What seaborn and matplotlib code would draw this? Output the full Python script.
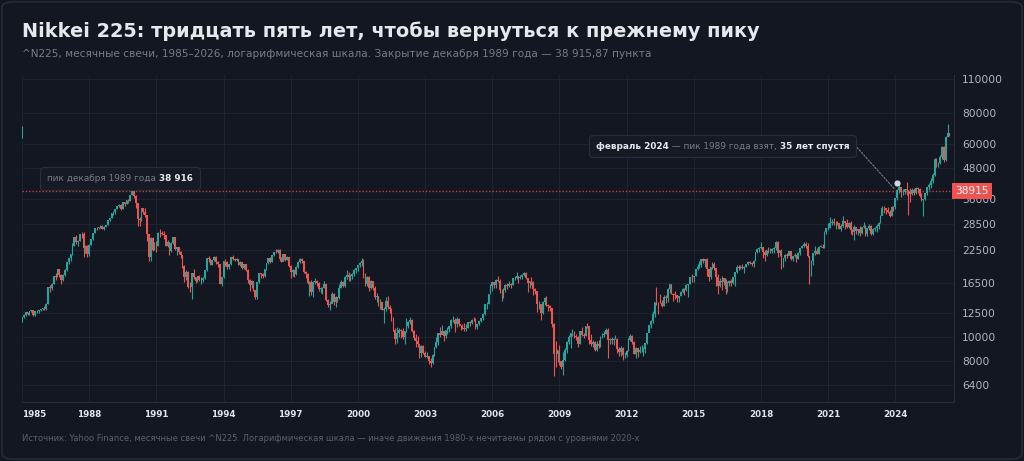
import matplotlib
matplotlib.use('Agg')
import numpy as np
import pandas as pd
import matplotlib.pyplot as plt
import seaborn as sns
from matplotlib.offsetbox import TextArea, HPacker, AnnotationBbox
from matplotlib.patches import FancyBboxPatch
from matplotlib.transforms import blended_transform_factory

# ---- data: ^N225 monthly candles, Jan 1985 .. Jun 2026 ----
start_year = 1985
first_open = 11543

closes = [
    11992, 12321, 12580, 12426, 12715, 12882, 12261, 12685, 12700, 12800, 12950, 13113,  # 1985
    13024, 13641, 15860, 15825, 16427, 17654, 17532, 18820, 17853, 16911, 17853, 18701,  # 1986
    20048, 20766, 21566, 23274, 25267, 24176, 24488, 26029, 26011, 22765, 23329, 21564,  # 1987
    23622, 24802, 26260, 27435, 27417, 27769, 28101, 27366, 27924, 28229, 29579, 30159,  # 1988
    31581, 31986, 32839, 33713, 34267, 32949, 34954, 34431, 35637, 35549, 37269, 38916,  # 1989
    37189, 34592, 29980, 29584, 33131, 31940, 31036, 25978, 20984, 25194, 22455, 23849,  # 1990
    23293, 26409, 26292, 26111, 25790, 23291, 24121, 22336, 23916, 25222, 22687, 22984,  # 1991
    22023, 21339, 19346, 17391, 18348, 15952, 15910, 18061, 17399, 16767, 17684, 16925,  # 1992
    17024, 17309, 18591, 20919, 20552, 19590, 20380, 21027, 20106, 19703, 16408, 17417,  # 1993
    20229, 19997, 19112, 19725, 20974, 20644, 20449, 20629, 19564, 19990, 19076, 19723,  # 1994
    18650, 17053, 16140, 16807, 15437, 14517, 16678, 18117, 17913, 17655, 18744, 19868,  # 1995
    20812, 20125, 21407, 22041, 21956, 22531, 20693, 20167, 21556, 20467, 21020, 19361,  # 1996
    18330, 18557, 18003, 19151, 20069, 20605, 20331, 18229, 17888, 16459, 16636, 15259,  # 1997
    16628, 16831, 16527, 15641, 15671, 15830, 16379, 14108, 13406, 13564, 14883, 13842,  # 1998
    14499, 14367, 15837, 16701, 16112, 17530, 17862, 17437, 17605, 17942, 18558, 18934,  # 1999
    19540, 19960, 20337, 17974, 16332, 17411, 15727, 16861, 15747, 14540, 14649, 13786,  # 2000
    13844, 12884, 12999, 13934, 13262, 12969, 11861, 10714, 9775, 10366, 10697, 10543,   # 2001
    9998, 10588, 11025, 11493, 11764, 10622, 9877, 9619, 9383, 8640, 9216, 8579,         # 2002
    8340, 8364, 7973, 7831, 8425, 9083, 9563, 10344, 10219, 10560, 10101, 10677,         # 2003
    10784, 11042, 11715, 11762, 11236, 11859, 11326, 11082, 10824, 10771, 10899, 11489,  # 2004
    11388, 11741, 11669, 11009, 11277, 11584, 11900, 12414, 13574, 13607, 14872, 16111,  # 2005
    16650, 16206, 17060, 16907, 15468, 15505, 15457, 16141, 16128, 16399, 16274, 17226,  # 2006
    17383, 17604, 17288, 17400, 17876, 18138, 17249, 16569, 16786, 16738, 15681, 15308,  # 2007
    13592, 13603, 12526, 13850, 14339, 13482, 13377, 13073, 11260, 8577, 8512, 8860,     # 2008
    7994, 7568, 8110, 8828, 9523, 9958, 10357, 10493, 10133, 10035, 9346, 10546,         # 2009
    10198, 10126, 11090, 11057, 9769, 9383, 9537, 8824, 9369, 9202, 9937, 10229,         # 2010
    10238, 10624, 9755, 9850, 9694, 9816, 9833, 8955, 8700, 8988, 8435, 8455,            # 2011
    8803, 9723, 10084, 9521, 8543, 9007, 8695, 8840, 8870, 8928, 9446, 10395,            # 2012
    11139, 11559, 12398, 13861, 13775, 13677, 13668, 13389, 14456, 14328, 15662, 16291,  # 2013
    14915, 14841, 14828, 14304, 14632, 15162, 15621, 15425, 16174, 16414, 17460, 17451,  # 2014
    17674, 18798, 19207, 19520, 20563, 20236, 20585, 18890, 17388, 19083, 19747, 19034,  # 2015
    17518, 16027, 16759, 16666, 17235, 15576, 16569, 16887, 16450, 17425, 18308, 19114,  # 2016
    19041, 19119, 18909, 19197, 19651, 20033, 19925, 19646, 20356, 22012, 22725, 22765,  # 2017
    23098, 22068, 21454, 22468, 22202, 22305, 22554, 22865, 24120, 21920, 22351, 20015,  # 2018
    20773, 21385, 21206, 22259, 20601, 21276, 21522, 20704, 21756, 22927, 23294, 23657,  # 2019
    23205, 21143, 18917, 20194, 21878, 22288, 21710, 23140, 23185, 22977, 26434, 27444,  # 2020
    27663, 28966, 29179, 28813, 28860, 28792, 27284, 28090, 29453, 28893, 27822, 28792,  # 2021
    27002, 26527, 27821, 26848, 27280, 26393, 27802, 28092, 25937, 27587, 27969, 26095,  # 2022
    27327, 27446, 28041, 28856, 30888, 33189, 33172, 32619, 31858, 30859, 33487, 33464,  # 2023
    36287, 39166, 40369, 38406, 38488, 39583, 39102, 38648, 37920, 39081, 38208, 39895,  # 2024
    39572, 37156, 35618, 36045, 37965, 40487, 41070, 42718, 44933, 52411, 50254, 50339,  # 2025
    53300, 58500, 51800, 64400, 66500, 65300,                                            # 2026
]

highs = [
    12000, 12400, 12620, 12650, 12730, 12900, 12900, 12700, 12800, 12900, 13000, 13130,
    13400, 13700, 15900, 16200, 16500, 17700, 18100, 18900, 18900, 17900, 17900, 18800,
    20100, 20900, 21600, 24000, 25300, 25900, 24600, 26100, 26600, 26650, 23600, 23500,
    23700, 24900, 26300, 27500, 27800, 27900, 28300, 28200, 28000, 28300, 29600, 30200,
    31600, 32300, 32900, 33800, 34300, 34400, 35000, 35100, 35700, 36000, 37300, 38960,
    38700, 37400, 34700, 30500, 33200, 33300, 33200, 31200, 26100, 25300, 25300, 24100,
    24300, 26500, 27200, 26800, 26700, 25800, 24600, 24200, 24100, 25300, 25300, 23000,
    23000, 22300, 21400, 19600, 18700, 18400, 16600, 18100, 18900, 17500, 17700, 17800,
    17400, 17400, 18600, 20900, 21200, 20800, 20500, 21200, 21300, 20300, 19800, 17500,
    20300, 20700, 20300, 19800, 21000, 21500, 20800, 20800, 20700, 20200, 19900, 19800,
    19800, 18800, 17200, 17000, 16900, 15500, 16700, 18200, 18200, 18200, 18800, 19900,
    20900, 21000, 21500, 22100, 22600, 22700, 22600, 21100, 21600, 21600, 21300, 21100,
    19500, 18800, 18700, 19300, 20300, 20900, 20900, 20300, 18400, 18100, 16800, 17000,
    16800, 17300, 17000, 16600, 15900, 15900, 16800, 16400, 14300, 14000, 15200, 15000,
    14600, 14500, 16400, 17000, 16800, 17700, 18600, 18300, 17900, 18100, 18800, 19000,
    19600, 20100, 20800, 20700, 18200, 17700, 17600, 17000, 16900, 16000, 15000, 14700,
    14200, 13900, 13200, 14500, 14600, 13500, 13100, 12000, 10900, 11000, 10900, 10800,
    10900, 10600, 11900, 11600, 12000, 11800, 10700, 10300, 10100, 9400, 9300, 9300,
    8800, 8700, 8400, 8200, 8500, 9100, 10000, 10400, 11000, 11200, 10600, 10700,
    11000, 11100, 11800, 12200, 11900, 12000, 11900, 11200, 11300, 11400, 11300, 11500,
    11600, 11800, 12000, 11900, 11300, 11600, 11900, 12500, 13600, 13800, 14900, 16400,
    16700, 16600, 17100, 17600, 17200, 15600, 15700, 16300, 16500, 16900, 16500, 17300,
    17700, 18300, 17700, 17800, 17900, 18300, 18300, 17300, 16900, 17500, 16800, 15800,
    15200, 14000, 13500, 14000, 14500, 14600, 13600, 13500, 12800, 11400, 9600, 8900,
    9300, 8000, 8700, 9000, 9600, 10200, 10400, 10800, 10600, 10300, 10100, 10600,
    10980, 10400, 11100, 11400, 11100, 10300, 9700, 9600, 9600, 9700, 10100, 10400,
    10600, 10900, 10900, 9900, 10000, 9900, 10200, 9900, 9100, 9200, 9100, 8700,
    8900, 9900, 10300, 10200, 9600, 9100, 9000, 9200, 9300, 9100, 9500, 10400,
    11200, 11700, 12700, 13900, 15900, 13900, 14900, 14100, 14800, 14800, 15700, 16300,
    16300, 15000, 15300, 14800, 14700, 15400, 15700, 15800, 16400, 16400, 17500, 18000,
    17700, 18800, 19800, 20200, 20600, 20900, 20700, 20900, 18900, 19100, 20000, 20000,
    18500, 17900, 17300, 17600, 17300, 17200, 16900, 17000, 17100, 17500, 18300, 19600,
    19600, 19500, 19700, 19400, 19700, 20300, 20200, 20100, 20400, 22100, 22900, 23000,
    24100, 23100, 22500, 22500, 23000, 22900, 22900, 23000, 24300, 24400, 22500, 22700,
    20900, 21600, 21900, 22300, 22300, 21300, 21800, 21500, 22100, 22900, 23600, 24100,
    24100, 24000, 21300, 20400, 21900, 23200, 22800, 23300, 23600, 23700, 26900, 27600,
    28900, 30500, 30000, 30200, 29500, 29500, 28800, 28500, 30800, 29300, 29900, 29100,
    29400, 27400, 28300, 27900, 27400, 28000, 27900, 29200, 28300, 27600, 28500, 28200,
    27500, 27700, 28600, 29000, 31000, 33800, 33800, 33100, 33400, 32500, 33800, 33900,
    36300, 39400, 41100, 40300, 39400, 39600, 42400, 38700, 39800, 40000, 39900, 40400,
    40300, 39900, 38200, 36100, 38100, 40500, 42000, 43900, 45900, 52600, 52600, 51000,
    54500, 59000, 59000, 64500, 72400, 66500,
]

lows = [
    11520, 11900, 12200, 12300, 12300, 12650, 12200, 12180, 12450, 12500, 12700, 12800,
    12900, 12900, 13600, 15200, 15500, 16400, 17000, 17400, 17500, 16400, 16800, 17700,
    18500, 19800, 20300, 21500, 23200, 23800, 23400, 24400, 25000, 21000, 21800, 21000,
    21200, 23500, 24600, 26200, 27000, 27200, 27600, 27200, 27000, 27700, 28200, 29400,
    30100, 31200, 31500, 32800, 33500, 32700, 32900, 33800, 34300, 34800, 35400, 37300,
    36500, 33300, 28000, 28000, 29400, 31400, 30600, 24300, 20200, 20200, 22300, 22400,
    22100, 23200, 25400, 25700, 24900, 23200, 23000, 21500, 22000, 23700, 22500, 21500,
    21600, 20900, 19000, 16600, 17000, 15700, 15200, 14300, 17100, 16500, 16600, 16800,
    16400, 16600, 17100, 18500, 20000, 19500, 19500, 20300, 19800, 19200, 16300, 16000,
    17300, 19300, 18900, 18900, 19600, 20400, 20300, 20300, 19500, 19400, 18900, 18900,
    18500, 16500, 15400, 15700, 15300, 14300, 14300, 16500, 17300, 17300, 17400, 18600,
    19700, 19900, 20000, 21300, 21800, 21800, 20300, 20000, 20200, 20300, 20400, 19200,
    17300, 17700, 17500, 17800, 19000, 19900, 19900, 18100, 17300, 16300, 14700, 14800,
    14500, 16300, 16100, 15300, 15000, 14900, 15700, 14000, 13200, 12800, 13700, 13500,
    13200, 13900, 14300, 15700, 15900, 15900, 17100, 16900, 16800, 17200, 17700, 18200,
    18500, 19100, 19400, 17300, 16000, 16100, 15400, 15600, 15500, 14300, 13900, 13400,
    13000, 12800, 11400, 12700, 13000, 12500, 11600, 10600, 9380, 9500, 10000, 9900,
    9800, 9400, 10500, 10900, 11300, 10500, 9700, 9100, 9100, 8200, 8300, 8500,
    8300, 8200, 7800, 7600, 7800, 8400, 9000, 9300, 10000, 10300, 9600, 9900,
    10300, 10500, 10900, 11500, 10500, 11000, 11100, 10700, 10800, 10600, 10600, 10900,
    11100, 11300, 11600, 10800, 10800, 11200, 11500, 11700, 12300, 13000, 13600, 14900,
    15300, 15700, 15800, 16700, 15000, 14000, 14400, 15200, 15600, 15900, 15700, 16200,
    17000, 17200, 16500, 17100, 17200, 17700, 17200, 15200, 15800, 16200, 14800, 14900,
    12600, 13000, 11700, 12400, 13500, 13400, 12700, 12700, 11000, 6990, 7600, 7900,
    7700, 7400, 7020, 8000, 8600, 9400, 9050, 10100, 9900, 9700, 9080, 9400,
    10100, 9900, 10100, 10900, 9400, 9200, 9100, 8800, 8800, 9000, 9100, 9900,
    10000, 10300, 8200, 9400, 9400, 9300, 9800, 8600, 8350, 8400, 8100, 8200,
    8300, 8800, 9600, 9400, 8500, 8200, 8300, 8600, 8700, 8400, 8600, 9400,
    10600, 10900, 11400, 12000, 13500, 12400, 13700, 13200, 13300, 13700, 13900, 15100,
    14900, 14000, 14200, 13900, 13900, 14600, 15100, 14800, 15300, 14500, 16400, 16700,
    16600, 17600, 18600, 19000, 19200, 19900, 19100, 17700, 16900, 17200, 18900, 18600,
    16000, 14900, 15900, 15500, 16200, 14900, 15200, 16100, 16100, 16300, 16100, 18200,
    18700, 18800, 18800, 18200, 19100, 19600, 19800, 19300, 19200, 20400, 21900, 22100,
    22700, 20900, 20300, 21300, 21900, 21800, 21900, 21900, 22500, 21000, 21200, 18900,
    19200, 20300, 20900, 21500, 20400, 20300, 21000, 20100, 20600, 21400, 22900, 23000,
    22900, 21000, 16400, 17600, 19600, 21500, 21700, 21700, 23000, 22900, 22900, 26000,
    27000, 27600, 28300, 28400, 27400, 28400, 27200, 26900, 27800, 27300, 27600, 27600,
    26000, 25800, 24700, 26000, 25700, 25500, 26000, 27600, 25600, 25600, 27100, 25700,
    25700, 26900, 26600, 27400, 28900, 31000, 31800, 31300, 31700, 30500, 30900, 32200,
    33000, 35800, 38300, 36700, 37600, 37700, 37500, 31200, 35200, 37600, 37600, 37900,
    38000, 36900, 35500, 30790, 35800, 37400, 39300, 39800, 41700, 44500, 48600, 48700,
    50000, 52500, 51000, 51500, 64000, 64800,
]

# a lone candle drawn at the very left edge of the original chart
stray_ohlc = [64500, 71000, 63500, 70200]

peak_1989 = 38915.87
breakout_month = 2024 + 1 / 12  # February 2024

year_ticks = list(range(1985, 2025, 3))
price_ticks = [6400, 8000, 10000, 12500, 16500, 22500, 28500, 36000, 48000, 60000, 80000, 110000]

# ---- frame ----
n = len(closes)
df = pd.DataFrame({
    'x': start_year + np.arange(n) / 12,
    'open': [first_open] + closes[:-1],
    'high': highs,
    'low': lows,
    'close': closes,
})
df['up'] = df['close'] >= df['open']

BG = '#131722'
GRID = '#1f2330'
UP = '#26a69a'
DOWN = '#ef5350'
TXT = '#d1d4dc'
MUTED = '#787b86'

sns.set_theme(style='dark', rc={
    'axes.facecolor': BG, 'figure.facecolor': BG, 'savefig.facecolor': BG,
    'axes.edgecolor': '#2a2e39', 'grid.color': GRID, 'text.color': TXT,
    'xtick.color': TXT, 'ytick.color': '#b2b5be',
})
plt.rcParams['font.family'] = ['DejaVu Sans']

fig = plt.figure(figsize=(10.24, 4.61), dpi=100)
fig.patches.append(FancyBboxPatch((0.002, 0.004), 0.996, 0.992, boxstyle='round,pad=0,rounding_size=0.012',
                                  transform=fig.transFigure, fc=BG, ec='#2a2e39', lw=1.0, zorder=-10))
ax = fig.add_axes([22 / 1024, 1 - 402 / 461, (954 - 22) / 1024, (402 - 75) / 461])

colors = np.where(df['up'], UP, DOWN)
body_lo = df[['open', 'close']].min(axis=1)
body_h = np.maximum((df['close'] - df['open']).abs(), body_lo * 0.004)
ax.vlines(df['x'], df['low'], df['high'], colors=colors, linewidth=0.8, zorder=3)
ax.bar(df['x'], body_h, bottom=body_lo, width=0.076, color=colors, linewidth=0, zorder=4)

# stray candle
s_o, s_h, s_l, s_c = stray_ohlc
ax.vlines(start_year, s_l, s_h, colors=UP, linewidth=0.8, zorder=3)
ax.bar(start_year, s_c - s_o, bottom=s_o, width=0.076, color=UP, linewidth=0, zorder=4)

ax.set_yscale('log')
ax.set_ylim(5465, 114200)
ax.set_xlim(1985.0, 2026.62)
ax.set_yticks(price_ticks)
ax.set_yticklabels([str(v) for v in price_ticks], fontsize=7.7)
ax.yaxis.set_minor_locator(matplotlib.ticker.NullLocator())
ax.yaxis.tick_right()
ax.set_xticks(year_ticks)
ax.set_xticklabels([str(y) for y in year_ticks], fontsize=6.3, fontweight='bold', color='#e0e3eb')
ax.get_xticklabels()[0].set_horizontalalignment('left')
ax.tick_params(axis='both', length=0)
ax.tick_params(axis='y', pad=6)
ax.tick_params(axis='x', pad=6)
ax.grid(True, color=GRID, linewidth=0.8)
for side in ['left', 'top']:
    ax.spines[side].set_visible(False)
for side in ['right', 'bottom']:
    ax.spines[side].set_color('#2a2e39')
    ax.spines[side].set_linewidth(0.8)

# 1989 peak reference line + price tag
ax.axhline(peak_1989, color='#e0484a', linestyle=(0, (1.0, 1.4)), linewidth=1.0, alpha=0.85, zorder=2)
ax.annotate('38915', xy=(1.0, peak_1989), xycoords=blended_transform_factory(ax.transAxes, ax.transData),
            xytext=(1, 0), textcoords='offset points', ha='left', va='center', fontsize=7.6, color='white',
            bbox=dict(boxstyle='square,pad=0.3', fc='#f05252', ec='none'), annotation_clip=False, zorder=6)

# breakout marker
dot_y = 41700
ax.scatter([breakout_month], [dot_y], s=20, color=TXT, zorder=7, linewidths=0)
ax.annotate('', xy=(breakout_month - 0.05, 38900), xycoords='data', xytext=(853, 461 - 143),
            textcoords='figure pixels',
            arrowprops=dict(arrowstyle='-', linestyle=(0, (1.5, 1.5)), color=MUTED, lw=0.8), zorder=5)


def label_box(parts, xy):
    areas = [TextArea(t, textprops=dict(color=c, fontsize=6.4, fontweight=w)) for t, c, w in parts]
    pack = HPacker(children=areas, align='baseline', pad=0, sep=0)
    ab = AnnotationBbox(pack, xy, xycoords='figure pixels', box_alignment=(0, 0.5), frameon=True,
                        pad=0.45, bboxprops=dict(boxstyle='round,pad=0.45,rounding_size=0.25',
                                                 fc='#161a25', ec='#2a2e39', lw=0.8), zorder=8)
    fig.add_artist(ab)


label_box([('пик декабря 1989 года ', MUTED, 'normal'), ('38 916', '#e6e8ee', 'bold')], (47, 461 - 178.5))
label_box([('февраль 2024', '#e6e8ee', 'bold'), (' — пик 1989 года взят, ', MUTED, 'normal'),
           ('35 лет спустя', '#e6e8ee', 'bold')], (596, 461 - 146))

# titles
fig.text(22 / 1024, 1 - 31 / 461, 'Nikkei 225: тридцать пять лет, чтобы вернуться к прежнему пику',
         fontsize=13.85, fontweight='bold', color='#e6e8ee', va='center', ha='left')
fig.text(22 / 1024, 1 - 54 / 461,
         '^N225, месячные свечи, 1985–2026, логарифмическая шкала. Закрытие декабря 1989 года — 38 915,87 пункта',
         fontsize=7.52, color=MUTED, va='center', ha='left')
fig.text(22 / 1024, 1 - 438 / 461,
         'Источник: Yahoo Finance, месячные свечи ^N225. Логарифмическая шкала — иначе движения 1980-х нечитаемы рядом с уровнями 2020-х',
         fontsize=6.07, color='#5d606b', va='center', ha='left')

fig.savefig('out.png', dpi=100, facecolor=BG)
